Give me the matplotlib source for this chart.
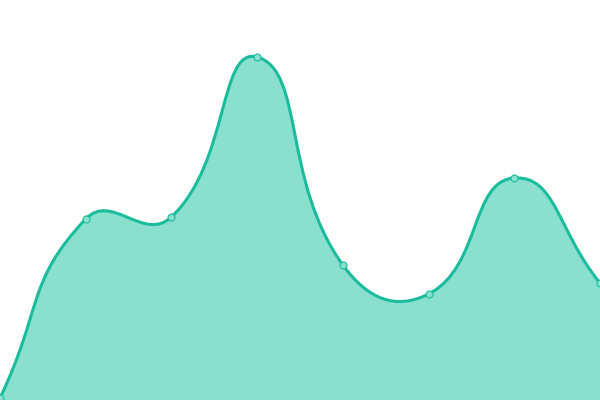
import numpy as np
import matplotlib
matplotlib.use("Agg")
import matplotlib.pyplot as plt
from matplotlib.path import Path
from matplotlib.patches import PathPatch

# values
categories = ["A", "B", "C", "D", "E", "F", "G", "H"]
values = [2, 181, 183, 343, 135, 106, 222, 117]

line_color = "#1abc9c"
fill_color = "#8ae0cf"
SMOOTH = 0.5


def control_points(pts, smooth=SMOOTH):
    # echarts-like: per point, a handle before and after (pixel space)
    n = len(pts)
    before, after = [], []
    for i in range(n):
        p = pts[i]
        prev = pts[i - 1] if i > 0 else p
        nxt = pts[i + 1] if i < n - 1 else p
        v = nxt - prev
        len_prev = np.hypot(*(p - prev))
        len_next = np.hypot(*(nxt - p))
        ratio = len_next / (len_next + len_prev)
        before.append(p - v * smooth * (1 - ratio))
        after.append(p + v * smooth * ratio)
    return before, after


def smooth_path(pts):
    before, after = control_points(pts)
    verts = [pts[0]]
    codes = [Path.MOVETO]
    for k in range(1, len(pts)):
        verts += [after[k - 1], before[k], pts[k]]
        codes += [Path.CURVE4] * 3
    return verts, codes


fig = plt.figure(figsize=(6, 4), dpi=100)
ax = fig.add_axes([0, 0, 1, 1])
ax.set_xlim(0, len(categories) - 1)
ax.set_ylim(0, 400)
ax.axis("off")

x = np.arange(len(categories))
disp = ax.transData.transform(np.column_stack([x, values]))
verts, codes = smooth_path(disp)
inv = ax.transData.inverted()
data_verts = inv.transform(np.array(verts))

line_path = Path(data_verts, codes)
fill_verts = np.vstack([data_verts, [[x[-1], 0], [x[0], 0], data_verts[0]]])
fill_codes = codes + [Path.LINETO, Path.LINETO, Path.CLOSEPOLY]
ax.add_patch(PathPatch(Path(fill_verts, fill_codes), facecolor=fill_color,
                       edgecolor="none", zorder=1))
ax.add_patch(PathPatch(line_path, facecolor="none", edgecolor=line_color,
                       linewidth=2.2, zorder=2, capstyle="round"))
ax.plot(x, values, "o", markersize=5, markerfacecolor=fill_color,
        markeredgecolor=line_color, markeredgewidth=0.8, zorder=3,
        clip_on=False)

fig.savefig("out.png", dpi=100)
